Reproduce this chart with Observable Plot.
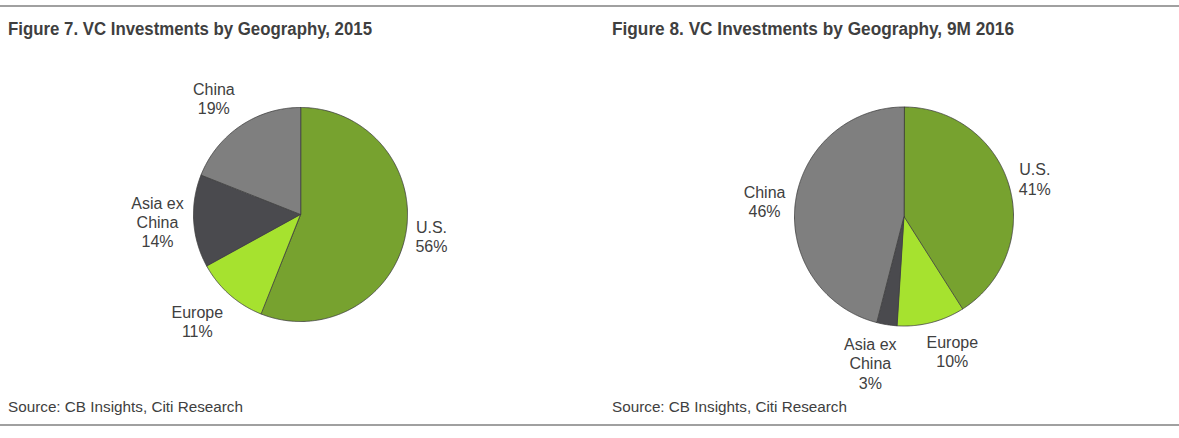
<!DOCTYPE html>
<html>
<head>
<meta charset="utf-8">
<script src="https://cdn.jsdelivr.net/npm/d3@7"></script>
<script src="https://cdn.jsdelivr.net/npm/@observablehq/plot@0.6"></script>
<style>
  html, body { margin: 0; padding: 0; background: #fff; }
  #page { position: relative; width: 1179px; height: 438px; overflow: hidden; background: #fff; }
  .rule { position: absolute; left: 0; width: 1179px; height: 2px; background: #a0a0a0; }
  .title { position: absolute; font-family: "Liberation Sans", Arial, sans-serif; font-weight: bold; font-size: 17.5px; color: #3f3f3f; white-space: nowrap; transform-origin: 0 0; }
  .source { position: absolute; font-family: "Liberation Sans", Arial, sans-serif; font-size: 15.5px; color: #404040; white-space: nowrap; transform-origin: 0 0; }
  .chart { position: absolute; }
</style>
</head>
<body>
<div id="page">
  <div class="rule" style="top:5px"></div>
  <div class="title" data-w="364" style="left:8px; top:19px">Figure 7. VC Investments by Geography, 2015</div>
  <div class="title" data-w="402" style="left:612px; top:19px">Figure 8. VC Investments by Geography, 9M 2016</div>
  <div class="chart" id="c1" style="left:0px; top:50px"></div>
  <div class="chart" id="c2" style="left:590px; top:50px"></div>
  <div class="source" data-w="235" style="left:8px; top:398px">Source: CB Insights, Citi Research</div>
  <div class="source" data-w="235" style="left:612px; top:398px">Source: CB Insights, Citi Research</div>
  <div class="rule" style="top:424px"></div>
</div>
<script>
// ---- data ----
const regions = ["U.S.", "Europe", "Asia ex China", "China"];
const regionLabels = ["U.S.", "Europe", "Asia ex\nChina", "China"];
const share2015 = [56, 11, 14, 19];
const share2016 = [41, 10, 3, 46];
const sliceColors = ["#77a22f", "#a6e22f", "#4a4a4e", "#7f7f7f"];

// condensed look for titles / sources (Arial Narrow not installed)
document.querySelectorAll("[data-w]").forEach(el => {
  const w = el.getBoundingClientRect().width;
  el.style.transform = `scaleX(${(+el.dataset.w / w).toFixed(4)})`;
});

const LABEL_FONT = 16, LINE_H = 19.2, GAP = 10;
const ctx = document.createElement("canvas").getContext("2d");
ctx.font = `${LABEL_FONT}px 'Liberation Sans'`;

function pieChart(values, opts) {
  const {width, height, cx, cy, R} = opts;
  const total = d3.sum(values);
  let acc = 0;
  const slices = values.map((v, i) => {
    const a0 = acc / total * 2 * Math.PI;
    acc += v;
    const a1 = acc / total * 2 * Math.PI;
    return {region: regions[i], label: regionLabels[i], value: v, a0, a1};
  });
  // polygon vertices (unit radius), clockwise from 12 o'clock
  const pts = [];
  for (const s of slices) {
    pts.push({region: s.region, x: 0, y: 0});
    const n = Math.max(2, Math.ceil((s.a1 - s.a0) / 0.01));
    for (let k = 0; k <= n; k++) {
      const a = s.a0 + (s.a1 - s.a0) * k / n;
      pts.push({region: s.region, x: Math.sin(a), y: Math.cos(a)});
    }
  }
  // "outside end" labels: anchor point just beyond the rim, box shifted away from the pie
  const f = t => Math.sign(t) * Math.min(1, Math.max(0, (Math.abs(t) - 0.2) / 0.35));
  const boxes = slices.map(s => {
    const m = (s.a0 + s.a1) / 2;
    const lines = s.label.split("\n");
    lines.push(s.value + "%");
    const w = d3.max(lines, l => ctx.measureText(l).width);
    const h = lines.length * LINE_H;
    const dx = Math.sin(m), dy = -Math.cos(m); // screen direction (y down)
    const px = dx * (R + GAP) + f(dx) * w / 2;
    const py = dy * (R + GAP) + f(dy) * h / 2;
    return {px, py, w, h, text: lines.join("\n")};
  });
  // push apart labels that collide
  for (let i = 0; i < boxes.length; i++) {
    const a = boxes[i], b = boxes[(i + 1) % boxes.length];
    if (a === b) continue;
    const vOverlap = Math.abs(a.py - b.py) < (a.h + b.h) / 2;
    const gapX = Math.abs(a.px - b.px) - (a.w + b.w) / 2;
    if (vOverlap && gapX < 30) {
      const push = (30 - gapX) / 2, s = Math.sign(a.px - b.px) || 1;
      a.px += s * push; b.px -= s * push;
    }
  }
  const labels = boxes.map(b => ({x: b.px / R, y: -b.py / R, text: b.text}));
  return Plot.plot({
    width, height,
    margin: 0,
    style: {background: "transparent", overflow: "visible"},
    x: {domain: [-1, 1], range: [cx - R, cx + R], axis: null},
    y: {domain: [-1, 1], range: [cy + R, cy - R], axis: null},
    color: {domain: regions, range: sliceColors},
    marks: [
      Plot.line(pts, {x: "x", y: "y", z: "region", fill: "region", stroke: "#3d3d3d", strokeWidth: 0.8, curve: "linear-closed"}),
      Plot.text(labels, {x: "x", y: "y", text: "text", fontSize: LABEL_FONT, fill: "#404040", fontFamily: "'Liberation Sans', Arial, sans-serif", lineHeight: LINE_H / LABEL_FONT})
    ]
  });
}

document.getElementById("c1").appendChild(pieChart(share2015, {width: 590, height: 340, cx: 300, cy: 164, R: 107}));
document.getElementById("c2").appendChild(pieChart(share2016, {width: 589, height: 340, cx: 313.5, cy: 166, R: 109.5}));
</script>
</body>
</html>
